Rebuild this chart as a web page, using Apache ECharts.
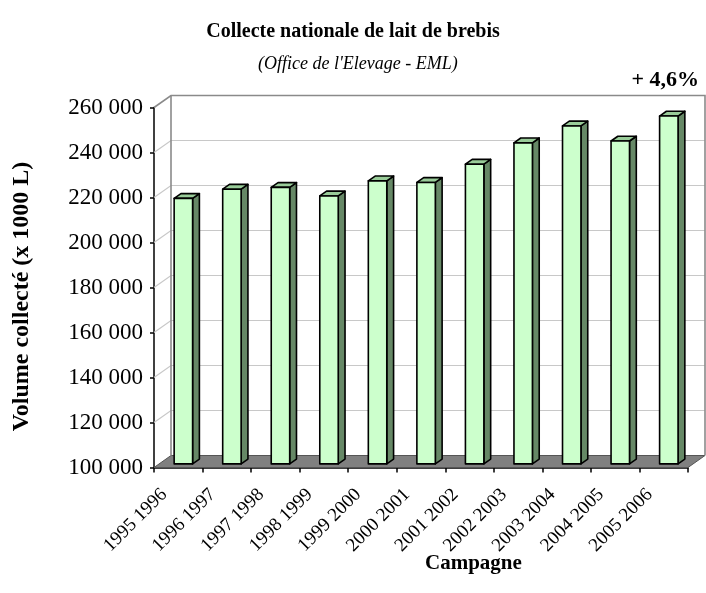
<!DOCTYPE html>
<html>
<head>
<meta charset="utf-8">
<script src="https://cdn.jsdelivr.net/npm/echarts@6/dist/echarts.min.js"></script>
<style>html,body{margin:0;padding:0;background:#fff}#c{width:706px;height:593px}</style>
</head>
<body>
<div id="c"></div>
<script>
var categories = ['1995 1996','1996 1997','1997 1998','1998 1999','1999 2000','2000 2001','2001 2002','2002 2003','2003 2004','2004 2005','2005 2006'];
var volumes = [218000, 222100, 222900, 219100, 225800, 225100, 233200, 242700, 250200, 243500, 254600];
var yMin = 100000, yMax = 260000, yStep = 20000;
var gridValues = [120000, 140000, 160000, 180000, 200000, 220000, 240000];

var FONT = 'Liberation Serif';
var DX = 17, DY = -12;

function fmt(v){ return String(v).replace(/\B(?=(\d{3})+(?!\d))/g, ' '); }

var chart = echarts.init(document.getElementById('c'));

function renderFrame(params, api){
  var cs = params.coordSys;
  var x0 = cs.x, x1 = cs.x + cs.width, yt = cs.y, yb = cs.y + cs.height;
  var ch = [];
  ch.push({type:'polygon', shape:{points:[[x0,yb],[x1,yb],[x1+DX,yb+DY],[x0+DX,yb+DY]]},
    style:{fill:'#808080', stroke:'#555', lineWidth:1}});
  gridValues.forEach(function(v){
    var y = api.coord([0, v])[1];
    ch.push({type:'polyline', shape:{points:[[x0,y],[x0+DX,y+DY],[x1+DX,y+DY]]},
      style:{stroke:'#c8c8c8', lineWidth:1.2, fill:null}});
  });
  var ytop = api.coord([0, yMax])[1];
  ch.push({type:'polyline', shape:{points:[[x0,ytop],[x0+DX,ytop+DY],[x1+DX,ytop+DY],[x1+DX,yb+DY]]},
    style:{stroke:'#8a8a8a', lineWidth:1.6, fill:null}});
  ch.push({type:'line', shape:{x1:x0+DX,y1:ytop+DY,x2:x0+DX,y2:yb+DY},
    style:{stroke:'#8a8a8a', lineWidth:1.6}});
  return {type:'group', children:ch};
}

function renderBar(params, api){
  var i = api.value(0), v = api.value(1);
  var top = api.coord([i, v]);
  var bot = api.coord([i, yMin]);
  var w = api.size([1, 0])[0];
  var fw = w * 0.38;
  var fx = top[0] + 0.3*DX - fw/2;
  var fxr = fx + fw;
  var ft = top[1] + 0.3*DY;
  var fb = bot[1] + 0.3*DY;
  var ddx = 0.4*DX, ddy = 0.4*DY;
  var st = {stroke:'#000', lineWidth:1.6, lineJoin:'round'};
  return {type:'group', children:[
    {type:'polygon', shape:{points:[[fxr,ft],[fxr+ddx,ft+ddy],[fxr+ddx,fb+ddy],[fxr,fb]]},
      style:Object.assign({fill:'#668866'}, st)},
    {type:'polygon', shape:{points:[[fx,ft],[fxr,ft],[fxr+ddx,ft+ddy],[fx+ddx,ft+ddy]]},
      style:Object.assign({fill:'#99cc99'}, st)},
    {type:'rect', shape:{x:fx, y:ft, width:fw, height:fb-ft},
      style:Object.assign({fill:'#ccffcc'}, st)}
  ]};
}

chart.setOption({
  animation:false,
  backgroundColor:'#fff',
  textStyle:{fontFamily:FONT},
  title:[
    {text:'Collecte nationale de lait de brebis', left:'center', top:17,
      textStyle:{fontFamily:FONT, fontSize:20, fontWeight:'bold', color:'#000'}},
    {text:"(Office de l'Elevage - EML)", left:253, top:50,
      textStyle:{fontFamily:FONT, fontSize:18, fontStyle:'italic', fontWeight:'normal', color:'#000'}},
    {text:'+ 4,6%', right:2, top:64,
      textStyle:{fontFamily:FONT, fontSize:22, fontWeight:'bold', color:'#000'}},
    {text:'Campagne', left:420, top:548,
      textStyle:{fontFamily:FONT, fontSize:21, fontWeight:'bold', color:'#000'}}
  ],
  grid:{left:154, right:18, top:107.5, bottom:125.5, containLabel:false, outerBoundsMode:'none'},
  xAxis:{type:'category', data:categories, boundaryGap:true,
    axisLine:{show:true, lineStyle:{color:'#000', width:1.5}},
    axisTick:{show:true, length:5, lineStyle:{color:'#000', width:1.5}},
    axisLabel:{rotate:45, interval:0, margin:10, padding:[0,20,0,0], fontFamily:FONT, fontSize:19, color:'#000'},
    splitLine:{show:false}},
  yAxis:{type:'value', min:yMin, max:yMax, interval:yStep,
    name:'Volume collecté (x 1000 L)', nameLocation:'middle', nameRotate:90, nameGap:120,
    nameTextStyle:{fontFamily:FONT, fontSize:24, fontWeight:'bold', color:'#000', padding:[0,18,0,0]},
    axisLine:{show:true, lineStyle:{color:'#000', width:1.5}},
    axisTick:{show:true, length:4, lineStyle:{color:'#000', width:1.5}},
    axisLabel:{margin:11, fontFamily:FONT, fontSize:23, color:'#000', formatter:fmt},
    splitLine:{show:false}},
  series:[
    {type:'custom', renderItem:renderFrame, data:[[0, yMin]], z:1, silent:true},
    {type:'custom', renderItem:renderBar, data:categories.map(function(c, i){ return [i, volumes[i]]; }), z:3}
  ]
});
</script>
</body>
</html>
